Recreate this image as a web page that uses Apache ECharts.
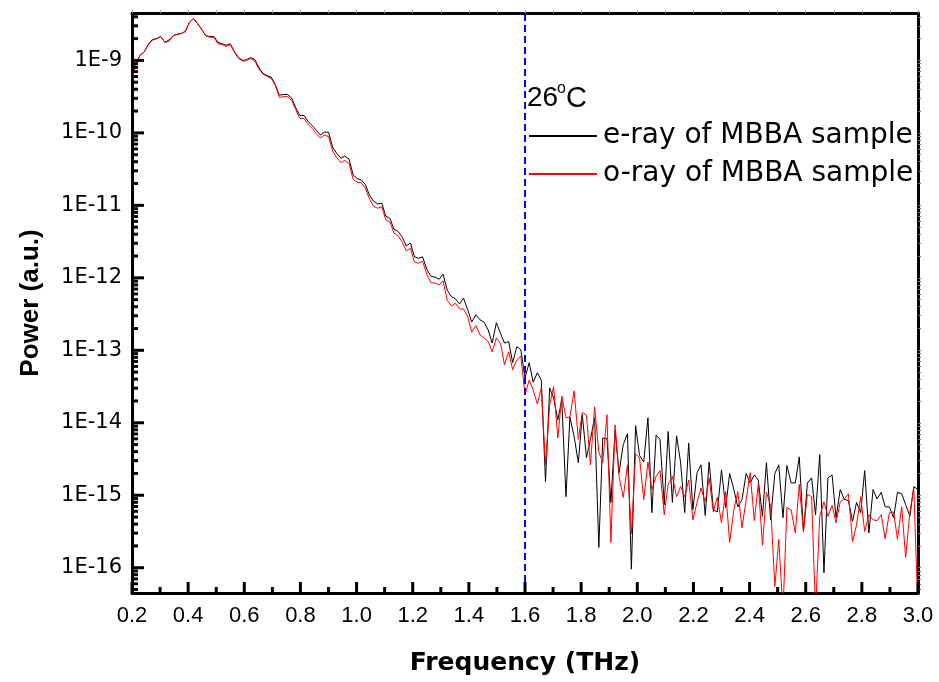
<!DOCTYPE html>
<html><head><meta charset="utf-8">
<script src="https://cdn.jsdelivr.net/npm/echarts@6/dist/echarts.min.js"></script>
<style>html,body{margin:0;padding:0;background:#fff}#c{width:939px;height:682px}</style>
</head><body><div id="c"></div>
<script>
// Frequency grid (THz)
const freq = [0.200,0.215,0.229,0.244,0.258,0.273,0.288,0.302,0.317,0.331,0.346,0.360,0.375,0.390,0.404,0.419,0.433,0.448,0.463,0.477,
0.492,0.506,0.521,0.535,0.550,0.565,0.579,0.594,0.608,0.623,0.638,0.652,0.667,0.681,0.696,0.710,0.725,0.740,0.754,0.769,
0.783,0.798,0.813,0.827,0.842,0.856,0.871,0.885,0.900,0.915,0.929,0.944,0.958,0.973,0.988,1.002,1.017,1.031,1.046,1.060,
1.075,1.090,1.104,1.119,1.133,1.148,1.163,1.177,1.192,1.206,1.221,1.235,1.250,1.265,1.279,1.294,1.308,1.323,1.338,1.352,
1.367,1.381,1.396,1.410,1.425,1.440,1.454,1.469,1.483,1.498,1.513,1.527,1.542,1.556,1.571,1.585,1.600,1.615,1.629,1.644,
1.658,1.673,1.688,1.702,1.717,1.731,1.746,1.760,1.775,1.790,1.804,1.819,1.833,1.848,1.863,1.877,1.892,1.906,1.921,1.935,
1.950,1.965,1.979,1.994,2.008,2.023,2.038,2.052,2.067,2.081,2.096,2.110,2.125,2.140,2.154,2.169,2.183,2.198,2.213,2.227,
2.242,2.256,2.271,2.285,2.300,2.315,2.329,2.344,2.358,2.373,2.388,2.402,2.417,2.431,2.446,2.460,2.475,2.490,2.504,2.519,
2.533,2.548,2.563,2.577,2.592,2.606,2.621,2.635,2.650,2.665,2.679,2.694,2.708,2.723,2.738,2.752,2.767,2.781,2.796,2.810,
2.825,2.840,2.854,2.869,2.883,2.898,2.913,2.927,2.942,2.956,2.971,2.985,3.000];

// log10(Power) of the e-ray (black)
const eRayLog10 = [-9.22,-9.03,-8.93,-8.88,-8.78,-8.71,-8.70,-8.67,-8.75,-8.72,-8.66,-8.64,-8.63,-8.60,-8.48,-8.42,-8.49,-8.57,-8.66,-8.67,
-8.67,-8.75,-8.77,-8.79,-8.77,-8.88,-8.96,-9.00,-8.99,-8.96,-8.99,-9.10,-9.18,-9.21,-9.23,-9.33,-9.48,-9.47,-9.47,-9.52,
-9.65,-9.76,-9.76,-9.84,-9.90,-9.96,-10.03,-9.99,-9.99,-10.20,-10.28,-10.35,-10.32,-10.36,-10.58,-10.63,-10.65,-10.71,-10.86,-10.94,
-10.98,-10.97,-11.15,-11.18,-11.33,-11.36,-11.44,-11.56,-11.52,-11.71,-11.73,-11.71,-11.88,-11.98,-11.99,-12.02,-11.95,-12.17,-12.26,-12.29,
-12.36,-12.28,-12.44,-12.61,-12.51,-12.58,-12.61,-12.72,-12.90,-12.62,-12.77,-12.90,-12.88,-13.17,-12.95,-12.99,-13.38,-13.17,-13.44,-13.31,
-13.41,-14.81,-13.52,-13.66,-13.96,-13.68,-15.02,-13.92,-14.19,-14.55,-13.89,-14.48,-14.23,-13.93,-15.72,-14.21,-14.22,-15.10,-14.10,-14.69,
-14.30,-14.15,-16.02,-14.04,-14.45,-14.54,-13.93,-15.24,-14.17,-14.23,-15.13,-14.12,-15.10,-14.18,-14.54,-15.24,-14.28,-15.20,-14.69,-14.58,
-15.28,-14.54,-15.20,-15.23,-14.65,-15.17,-14.70,-14.92,-15.16,-15.06,-14.70,-14.83,-14.72,-14.79,-15.29,-14.55,-15.34,-14.70,-14.58,-15.31,
-14.59,-14.83,-14.83,-14.47,-15.50,-14.83,-14.76,-15.27,-14.44,-16.07,-14.76,-14.72,-15.31,-14.92,-15.06,-15.07,-15.36,-15.10,-15.24,-14.66,
-15.52,-14.92,-15.05,-14.96,-15.16,-15.16,-15.31,-14.96,-14.98,-15.13,-15.29,-14.88,-14.92];

// log10(Power) of the o-ray (red)
const oRayLog10 = [-9.25,-9.03,-8.93,-8.88,-8.78,-8.72,-8.70,-8.67,-8.75,-8.74,-8.66,-8.64,-8.63,-8.60,-8.48,-8.42,-8.49,-8.57,-8.66,-8.68,
-8.68,-8.77,-8.78,-8.81,-8.78,-8.89,-8.97,-9.01,-9.00,-8.97,-9.01,-9.12,-9.19,-9.22,-9.25,-9.34,-9.51,-9.50,-9.50,-9.55,
-9.68,-9.80,-9.80,-9.88,-9.94,-10.01,-10.07,-10.03,-10.05,-10.25,-10.34,-10.41,-10.38,-10.42,-10.64,-10.68,-10.69,-10.76,-10.91,-11.01,
-11.04,-11.02,-11.20,-11.23,-11.38,-11.42,-11.51,-11.63,-11.59,-11.78,-11.80,-11.77,-11.95,-12.07,-12.07,-12.10,-12.04,-12.31,-12.39,-12.35,
-12.43,-12.43,-12.54,-12.75,-12.66,-12.79,-12.83,-12.88,-13.02,-12.83,-12.91,-13.20,-13.02,-13.27,-13.13,-13.08,-13.61,-13.41,-13.55,-13.74,
-13.52,-14.58,-13.75,-13.50,-14.21,-13.63,-13.93,-13.92,-13.56,-14.23,-13.86,-13.89,-14.58,-13.78,-14.40,-14.55,-13.89,-15.65,-14.03,-14.74,
-15.03,-14.58,-15.53,-14.43,-14.48,-15.06,-14.54,-14.92,-14.74,-14.66,-15.27,-14.85,-14.74,-15.02,-14.88,-15.02,-14.79,-15.34,-15.10,-14.90,
-15.09,-14.76,-15.23,-15.03,-15.38,-14.95,-15.65,-15.20,-14.95,-15.45,-15.06,-14.69,-15.35,-14.85,-15.69,-14.96,-15.14,-16.26,-15.61,-16.60,
-15.17,-15.20,-15.52,-14.85,-15.50,-14.99,-15.02,-16.60,-15.29,-15.09,-15.29,-15.14,-15.38,-15.09,-15.05,-14.98,-15.64,-15.41,-15.02,-15.50,
-15.27,-15.34,-15.35,-15.27,-15.60,-15.24,-15.23,-15.61,-15.16,-15.86,-15.24,-14.90,-16.60];

const seriesNames = ['e-ray of MBBA sample', 'o-ray of MBBA sample'];
const yMajorTicks = [1e-16, 1e-15, 1e-14, 1e-13, 1e-12, 1e-11, 1e-10, 1e-9];
const xMajorTicks = [0.2,0.4,0.6,0.8,1.0,1.2,1.4,1.6,1.8,2.0,2.2,2.4,2.6,2.8,3.0];
const xMinorTicks = [0.3,0.5,0.7,0.9,1.1,1.3,1.5,1.7,1.9,2.1,2.3,2.5,2.7,2.9];
const markerFreq = 1.6;
const tempText = ['26', 'o', 'C'];

const X_MIN = 0.2, X_MAX = 3.0;
const Y_MIN = 4.48e-17, Y_MAX = 4.51e-9;
const yMinorTicks = [];
for (let n = -17; n <= -9; n++) for (let m = 2; m <= 9; m++) {
  const v = m * Math.pow(10, n); if (v > Y_MIN && v < Y_MAX) yMinorTicks.push(v);
}
const yAllTicks = yMajorTicks.concat(yMinorTicks);

const FONT = 'DejaVu Sans', ARIAL = 'Liberation Sans';
const eData = freq.map((f, i) => [f, Math.pow(10, eRayLog10[i])]);
const oData = freq.map((f, i) => [f, Math.pow(10, oRayLog10[i])]);

const textEls = [
  {type: 'text', left: 527, top: 84, z: 50, style: {text: tempText[0], font: '28px "Liberation Sans"', fill: '#000'}},
  {type: 'text', left: 557, top: 81, z: 50, style: {text: tempText[1], font: '16px "Liberation Sans"', fill: '#000'}},
  {type: 'text', left: 566, top: 84, z: 50, style: {text: tempText[2], font: '29px "Liberation Sans"', fill: '#000'}}
];

const chart = echarts.init(document.getElementById('c'), null, {renderer: 'canvas'});
chart.setOption({
  animation: false, backgroundColor: '#fff',
  grid: {show: false, left: 132, right: 21, top: 13, bottom: 89},
  xAxis: [{
    type: 'value', min: X_MIN, max: X_MAX, interval: 0.2, position: 'bottom',
    axisLine: {show: true, onZero: false, lineStyle: {color: '#000', width: 3}},
    axisTick: {show: false},
    splitLine: {show: false},
    axisLabel: {formatter: v => v.toFixed(1), fontSize: 22, fontFamily: ARIAL, color: '#000', margin: 12},
    name: 'Frequency (THz)', nameLocation: 'middle', nameGap: 58,
    nameTextStyle: {fontFamily: FONT, fontWeight: 'bold', fontSize: 25, color: '#000'}
  }, {
    type: 'value', min: X_MIN, max: X_MAX, interval: 0.1, position: 'top',
    axisLine: {show: true, onZero: false, lineStyle: {color: '#000', width: 3}},
    axisTick: {show: true, inside: false, length: 3, lineStyle: {color: '#aaa', width: 1}},
    axisLabel: {show: false}, splitLine: {show: false}
  }],
  yAxis: [{
    type: 'log', min: Y_MIN, max: Y_MAX, position: 'left',
    axisLine: {show: true, onZero: false, lineStyle: {color: '#000', width: 3}},
    axisTick: {show: false},
    axisLabel: {customValues: yMajorTicks, formatter: v => '1E' + Math.round(Math.log10(v)),
      fontSize: 21, fontFamily: FONT, color: '#000', margin: 10},
    splitLine: {show: false},
    name: 'Power (a.u.)', nameLocation: 'middle', nameGap: 88,
    nameTextStyle: {fontFamily: ARIAL, fontWeight: 'bold', fontSize: 26, color: '#000'}
  }, {
    type: 'log', min: Y_MIN, max: Y_MAX, position: 'right',
    axisLine: {show: true, onZero: false, lineStyle: {color: '#000', width: 3}},
    axisTick: {show: true, inside: false, length: 3, lineStyle: {color: '#777', width: 1}, customValues: yAllTicks},
    axisLabel: {show: false}, splitLine: {show: false}
  }],
  legend: {
    orient: 'vertical', left: 523, top: 117, itemWidth: 68, itemHeight: 26, itemGap: 10,
    data: seriesNames, itemStyle: {color: 'rgba(0,0,0,0)', borderWidth: 0},
    textStyle: {fontFamily: FONT, fontSize: 28, color: '#000', padding: [0, 0, 0, 1]}
  },
  graphic: textEls,
  series: [{
    name: seriesNames[0], type: 'line', data: eData, xAxisIndex: 0, yAxisIndex: 0,
    symbol: 'none', clip: true, lineStyle: {color: '#000', width: 1}, itemStyle: {color: '#000'}
  }, {
    name: seriesNames[1], type: 'line', data: oData, xAxisIndex: 0, yAxisIndex: 0,
    symbol: 'none', clip: true, lineStyle: {color: '#ff0000', width: 1}, itemStyle: {color: '#ff0000'},
    markLine: {silent: true, symbol: 'none', label: {show: false},
      lineStyle: {color: '#0000ff', type: [7, 4], width: 2}, data: [{xAxis: markerFreq}]}
  }]
});

// Inward tick marks: positions come from the chart's own axis scales via convertToPixel
try {
  const tickEls = [];
  const toPx = (x, y) => chart.convertToPixel({xAxisIndex: 0, yAxisIndex: 0}, [x, y]);
  const addX = (vals, len) => vals.forEach(v => {
    const p = toPx(v, Y_MIN);
    if (p && isFinite(p[0])) tickEls.push({type: 'line', silent: true, z: 60,
      shape: {x1: p[0], y1: p[1], x2: p[0], y2: p[1] - len}, style: {stroke: '#000', lineWidth: 3}});
  });
  const addY = (vals, len) => vals.forEach(v => {
    const p = toPx(X_MIN, v);
    if (p && isFinite(p[1])) tickEls.push({type: 'line', silent: true, z: 60,
      shape: {x1: p[0], y1: p[1], x2: p[0] + len, y2: p[1]}, style: {stroke: '#000', lineWidth: 3}});
  });
  addX(xMajorTicks, 11);
  addX(xMinorTicks, 6);
  addY(yMajorTicks, 12);
  addY(yMinorTicks, 6);
  chart.setOption({graphic: textEls.concat(tickEls)});
} catch (e) { console.error(e); }
</script>
</body></html>
